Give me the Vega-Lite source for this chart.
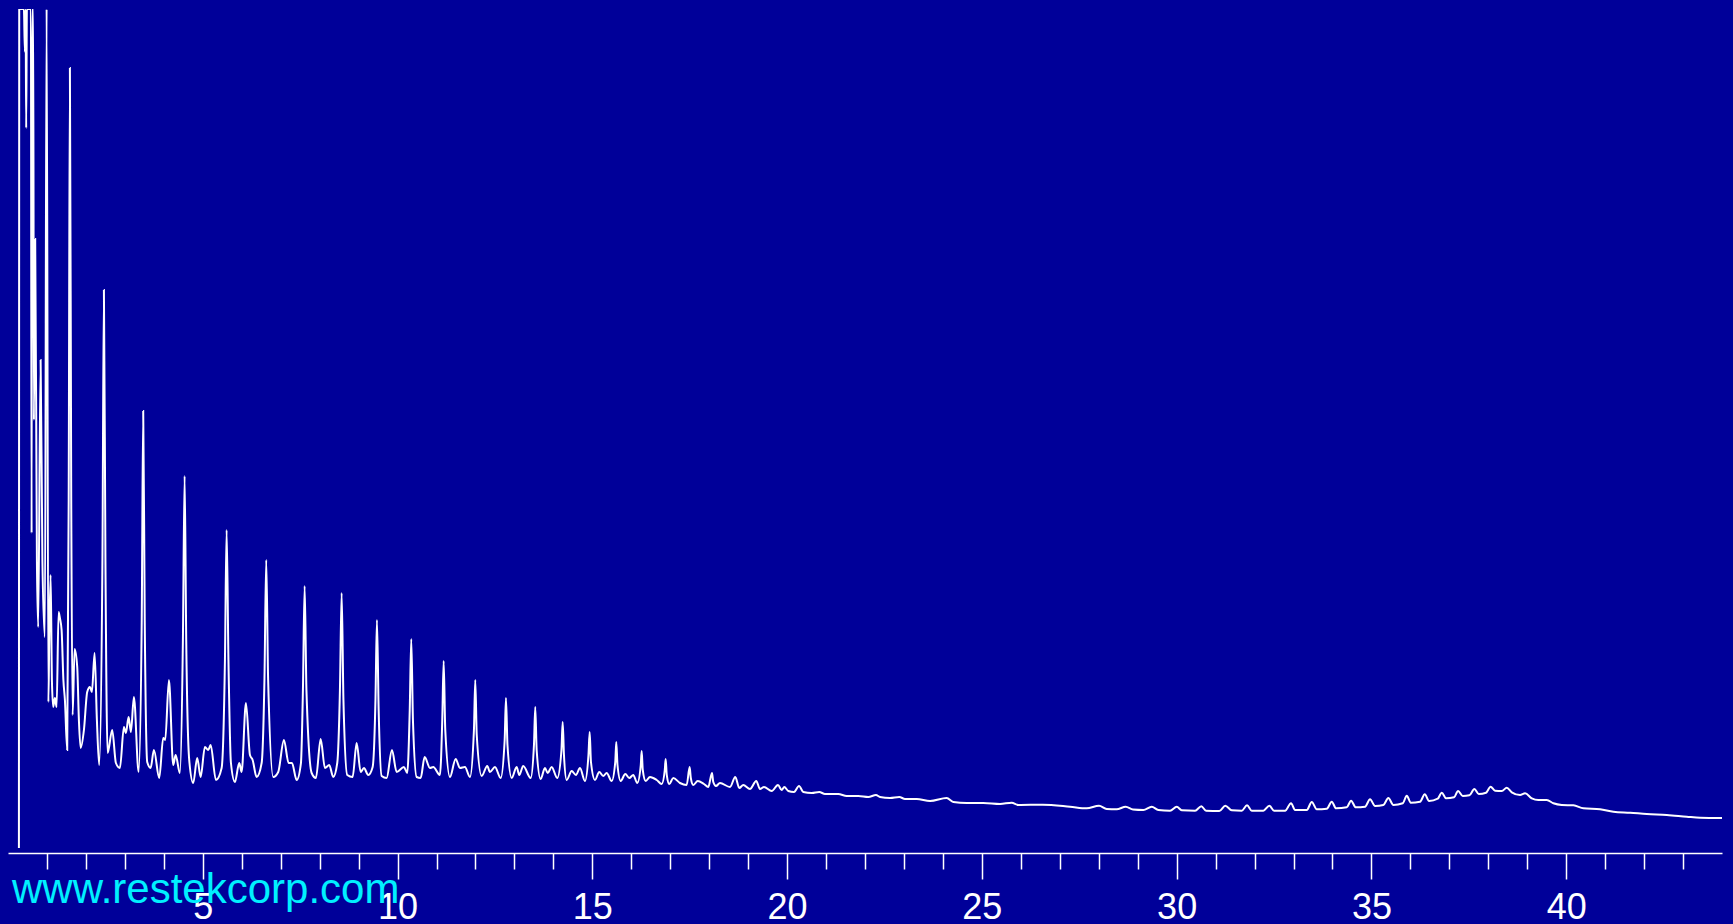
{
  "$schema": "https://vega.github.io/schema/vega-lite/v6.json",
  "autosize": {"type": "none"},
  "padding": {"left": 8, "top": 9, "right": 11, "bottom": 71},
  "width": 1714,
  "height": 844,
  "background": "#000099",
  "config": {"view": {"stroke": null}},
  "title": {"text": "www.restekcorp.com", "orient": "bottom", "anchor": "start", "frame": "group", "fontSize": 42, "font": "Liberation Sans", "fontWeight": "normal", "color": "#00F0FF", "offset": -55, "dx": 4},
  "data": {"values": [
    {"t": 0.280, "signal": 5}, {"t": 0.288, "signal": 844}, {"t": 0.408, "signal": 844}, {"t": 0.434, "signal": 801},
    {"t": 0.452, "signal": 844}, {"t": 0.467, "signal": 725}, {"t": 0.485, "signal": 844}, {"t": 0.588, "signal": 844},
    {"t": 0.606, "signal": 320}, {"t": 0.621, "signal": 844}, {"t": 0.647, "signal": 844}, {"t": 0.665, "signal": 433},
    {"t": 0.698, "signal": 614}, {"t": 0.742, "signal": 293}, {"t": 0.775, "signal": 226}, {"t": 0.837, "signal": 493},
    {"t": 0.883, "signal": 293}, {"t": 0.947, "signal": 216}, {"t": 0.991, "signal": 844}, {"t": 1.037, "signal": 151},
    {"t": 1.058, "signal": 213}, {"t": 1.094, "signal": 278}, {"t": 1.127, "signal": 173}, {"t": 1.160, "signal": 146},
    {"t": 1.204, "signal": 155}, {"t": 1.248, "signal": 146}, {"t": 1.299, "signal": 241}, {"t": 1.332, "signal": 235},
    {"t": 1.376, "signal": 223}, {"t": 1.422, "signal": 173}, {"t": 1.461, "signal": 153}, {"t": 1.520, "signal": 103},
    {"t": 1.558, "signal": 353}, {"t": 1.589, "signal": 785}, {"t": 1.623, "signal": 353}, {"t": 1.659, "signal": 138},
    {"t": 1.710, "signal": 204}, {"t": 1.777, "signal": 186}, {"t": 1.820, "signal": 133}, {"t": 1.864, "signal": 105},
    {"t": 1.949, "signal": 123}, {"t": 2.033, "signal": 161}, {"t": 2.103, "signal": 166}, {"t": 2.154, "signal": 161},
    {"t": 2.223, "signal": 200}, {"t": 2.282, "signal": 133}, {"t": 2.341, "signal": 88}, {"t": 2.424, "signal": 293},
    {"t": 2.462, "signal": 563}, {"t": 2.501, "signal": 293}, {"t": 2.557, "signal": 100}, {"t": 2.675, "signal": 123},
    {"t": 2.770, "signal": 90}, {"t": 2.873, "signal": 85}, {"t": 2.976, "signal": 126}, {"t": 3.027, "signal": 120},
    {"t": 3.096, "signal": 136}, {"t": 3.155, "signal": 121}, {"t": 3.232, "signal": 156}, {"t": 3.353, "signal": 81},
    {"t": 3.433, "signal": 233}, {"t": 3.471, "signal": 442}, {"t": 3.510, "signal": 233}, {"t": 3.574, "signal": 91},
    {"t": 3.661, "signal": 85}, {"t": 3.746, "signal": 103}, {"t": 3.882, "signal": 75}, {"t": 3.985, "signal": 115},
    {"t": 4.036, "signal": 113}, {"t": 4.131, "signal": 173}, {"t": 4.241, "signal": 88}, {"t": 4.303, "signal": 98},
    {"t": 4.413, "signal": 80}, {"t": 4.490, "signal": 213}, {"t": 4.534, "signal": 377}, {"t": 4.575, "signal": 213},
    {"t": 4.652, "signal": 93}, {"t": 4.755, "signal": 70}, {"t": 4.857, "signal": 95}, {"t": 4.945, "signal": 76},
    {"t": 5.055, "signal": 106}, {"t": 5.140, "signal": 103}, {"t": 5.202, "signal": 108}, {"t": 5.338, "signal": 73},
    {"t": 5.484, "signal": 85}, {"t": 5.569, "signal": 193}, {"t": 5.612, "signal": 323}, {"t": 5.659, "signal": 193},
    {"t": 5.723, "signal": 90}, {"t": 5.825, "signal": 71}, {"t": 5.936, "signal": 90}, {"t": 5.997, "signal": 81},
    {"t": 6.108, "signal": 150}, {"t": 6.211, "signal": 98}, {"t": 6.280, "signal": 93}, {"t": 6.382, "signal": 76},
    {"t": 6.511, "signal": 90}, {"t": 6.583, "signal": 173}, {"t": 6.629, "signal": 293}, {"t": 6.678, "signal": 173},
    {"t": 6.809, "signal": 76}, {"t": 6.937, "signal": 81}, {"t": 7.083, "signal": 113}, {"t": 7.204, "signal": 90},
    {"t": 7.289, "signal": 90}, {"t": 7.410, "signal": 73}, {"t": 7.520, "signal": 90}, {"t": 7.571, "signal": 163},
    {"t": 7.615, "signal": 267}, {"t": 7.661, "signal": 163}, {"t": 7.795, "signal": 80}, {"t": 7.905, "signal": 75},
    {"t": 8.026, "signal": 114}, {"t": 8.136, "signal": 85}, {"t": 8.247, "signal": 88}, {"t": 8.349, "signal": 76},
    {"t": 8.452, "signal": 90}, {"t": 8.521, "signal": 163}, {"t": 8.565, "signal": 260}, {"t": 8.611, "signal": 153},
    {"t": 8.709, "signal": 78}, {"t": 8.847, "signal": 76}, {"t": 8.950, "signal": 110}, {"t": 9.053, "signal": 81},
    {"t": 9.137, "signal": 85}, {"t": 9.248, "signal": 78}, {"t": 9.361, "signal": 86}, {"t": 9.433, "signal": 153},
    {"t": 9.471, "signal": 233}, {"t": 9.515, "signal": 143}, {"t": 9.592, "signal": 77}, {"t": 9.720, "signal": 75},
    {"t": 9.856, "signal": 103}, {"t": 9.977, "signal": 81}, {"t": 10.164, "signal": 86}, {"t": 10.249, "signal": 80},
    {"t": 10.313, "signal": 143}, {"t": 10.352, "signal": 214}, {"t": 10.395, "signal": 133}, {"t": 10.490, "signal": 76},
    {"t": 10.593, "signal": 75}, {"t": 10.696, "signal": 96}, {"t": 10.832, "signal": 85}, {"t": 10.917, "signal": 86},
    {"t": 11.088, "signal": 78}, {"t": 11.148, "signal": 133}, {"t": 11.184, "signal": 192}, {"t": 11.225, "signal": 123},
    {"t": 11.345, "signal": 76}, {"t": 11.492, "signal": 94}, {"t": 11.602, "signal": 85}, {"t": 11.730, "signal": 86},
    {"t": 11.859, "signal": 76}, {"t": 11.961, "signal": 123}, {"t": 11.995, "signal": 173}, {"t": 12.033, "signal": 118},
    {"t": 12.159, "signal": 77}, {"t": 12.303, "signal": 87}, {"t": 12.372, "signal": 81}, {"t": 12.501, "signal": 86},
    {"t": 12.647, "signal": 75}, {"t": 12.750, "signal": 113}, {"t": 12.783, "signal": 155}, {"t": 12.822, "signal": 108},
    {"t": 12.930, "signal": 75}, {"t": 13.058, "signal": 86}, {"t": 13.124, "signal": 78}, {"t": 13.227, "signal": 87},
    {"t": 13.417, "signal": 75}, {"t": 13.502, "signal": 108}, {"t": 13.535, "signal": 146}, {"t": 13.571, "signal": 103},
    {"t": 13.674, "signal": 74}, {"t": 13.784, "signal": 85}, {"t": 13.854, "signal": 80}, {"t": 13.956, "signal": 86},
    {"t": 14.100, "signal": 75}, {"t": 14.208, "signal": 103}, {"t": 14.239, "signal": 131}, {"t": 14.272, "signal": 98},
    {"t": 14.341, "signal": 73}, {"t": 14.470, "signal": 82}, {"t": 14.580, "signal": 78}, {"t": 14.683, "signal": 85},
    {"t": 14.811, "signal": 72}, {"t": 14.901, "signal": 98}, {"t": 14.932, "signal": 121}, {"t": 14.965, "signal": 91},
    {"t": 15.068, "signal": 73}, {"t": 15.178, "signal": 81}, {"t": 15.281, "signal": 77}, {"t": 15.368, "signal": 80},
    {"t": 15.497, "signal": 72}, {"t": 15.589, "signal": 91}, {"t": 15.615, "signal": 111}, {"t": 15.646, "signal": 88},
    {"t": 15.728, "signal": 72}, {"t": 15.846, "signal": 79}, {"t": 15.949, "signal": 75}, {"t": 16.051, "signal": 78},
    {"t": 16.154, "signal": 70}, {"t": 16.244, "signal": 88}, {"t": 16.267, "signal": 102}, {"t": 16.295, "signal": 83},
    {"t": 16.370, "signal": 72}, {"t": 16.480, "signal": 76}, {"t": 16.652, "signal": 73}, {"t": 16.781, "signal": 69},
    {"t": 16.860, "signal": 83}, {"t": 16.883, "signal": 94}, {"t": 16.911, "signal": 78}, {"t": 16.976, "signal": 69},
    {"t": 17.078, "signal": 75}, {"t": 17.250, "signal": 70}, {"t": 17.422, "signal": 68}, {"t": 17.499, "signal": 86},
    {"t": 17.528, "signal": 75}, {"t": 17.592, "signal": 68}, {"t": 17.705, "signal": 72}, {"t": 17.866, "signal": 69},
    {"t": 17.977, "signal": 66}, {"t": 18.072, "signal": 80}, {"t": 18.105, "signal": 71}, {"t": 18.175, "signal": 67},
    {"t": 18.277, "signal": 70}, {"t": 18.534, "signal": 66}, {"t": 18.670, "signal": 76}, {"t": 18.773, "signal": 65},
    {"t": 18.875, "signal": 68}, {"t": 19.047, "signal": 64}, {"t": 19.209, "signal": 72}, {"t": 19.304, "signal": 64},
    {"t": 19.407, "signal": 66}, {"t": 19.605, "signal": 62}, {"t": 19.766, "signal": 68}, {"t": 19.861, "signal": 63},
    {"t": 19.928, "signal": 66}, {"t": 20.031, "signal": 62}, {"t": 20.177, "signal": 61}, {"t": 20.306, "signal": 67},
    {"t": 20.416, "signal": 61}, {"t": 20.632, "signal": 60}, {"t": 20.827, "signal": 61}, {"t": 20.973, "signal": 59},
    {"t": 21.314, "signal": 59}, {"t": 21.530, "signal": 57}, {"t": 21.828, "signal": 57}, {"t": 22.085, "signal": 56},
    {"t": 22.282, "signal": 58}, {"t": 22.385, "signal": 56}, {"t": 22.642, "signal": 55}, {"t": 22.881, "signal": 56},
    {"t": 23.027, "signal": 54}, {"t": 23.328, "signal": 54}, {"t": 23.669, "signal": 52}, {"t": 24.097, "signal": 55},
    {"t": 24.267, "signal": 51}, {"t": 24.611, "signal": 50}, {"t": 25.037, "signal": 50}, {"t": 25.466, "signal": 49},
    {"t": 25.766, "signal": 50.3}, {"t": 25.936, "signal": 48}, {"t": 26.562, "signal": 48.3}, {"t": 27.263, "signal": 46.3},
    {"t": 27.692, "signal": 44.7}, {"t": 28.008, "signal": 47.3}, {"t": 28.205, "signal": 44}, {"t": 28.462, "signal": 43.7},
    {"t": 28.693, "signal": 46.3}, {"t": 28.880, "signal": 43.5}, {"t": 29.145, "signal": 43}, {"t": 29.361, "signal": 46.3},
    {"t": 29.530, "signal": 43}, {"t": 29.831, "signal": 42.3}, {"t": 30.003, "signal": 46.3}, {"t": 30.131, "signal": 42.7},
    {"t": 30.472, "signal": 42.3}, {"t": 30.634, "signal": 46.7}, {"t": 30.755, "signal": 42.3}, {"t": 31.096, "signal": 42},
    {"t": 31.250, "signal": 47.3}, {"t": 31.415, "signal": 42.7}, {"t": 31.671, "signal": 42.3}, {"t": 31.807, "signal": 47.7},
    {"t": 31.928, "signal": 42.3}, {"t": 32.226, "signal": 42.3}, {"t": 32.380, "signal": 47.3}, {"t": 32.501, "signal": 42.3},
    {"t": 32.783, "signal": 42.3}, {"t": 32.937, "signal": 49.7}, {"t": 33.040, "signal": 43}, {"t": 33.340, "signal": 43},
    {"t": 33.469, "signal": 51}, {"t": 33.597, "signal": 43.7}, {"t": 33.854, "signal": 44.3}, {"t": 33.982, "signal": 51.3},
    {"t": 34.092, "signal": 44.7}, {"t": 34.367, "signal": 45.7}, {"t": 34.478, "signal": 52.3}, {"t": 34.598, "signal": 45.7},
    {"t": 34.837, "signal": 46.3}, {"t": 34.965, "signal": 53.7}, {"t": 35.094, "signal": 47}, {"t": 35.307, "signal": 48},
    {"t": 35.435, "signal": 55}, {"t": 35.564, "signal": 48}, {"t": 35.805, "signal": 49.7}, {"t": 35.908, "signal": 57.3},
    {"t": 36.010, "signal": 50.3}, {"t": 36.249, "signal": 51.3}, {"t": 36.370, "signal": 58.7}, {"t": 36.480, "signal": 52},
    {"t": 36.703, "signal": 54.3}, {"t": 36.806, "signal": 60.3}, {"t": 36.917, "signal": 54.7}, {"t": 37.122, "signal": 55.7},
    {"t": 37.225, "signal": 62}, {"t": 37.345, "signal": 57}, {"t": 37.515, "signal": 57.7}, {"t": 37.643, "signal": 64},
    {"t": 37.756, "signal": 59}, {"t": 37.943, "signal": 60.3}, {"t": 38.059, "signal": 66.3}, {"t": 38.175, "signal": 62.3},
    {"t": 38.347, "signal": 62}, {"t": 38.475, "signal": 65.3}, {"t": 38.603, "signal": 60.7}, {"t": 38.816, "signal": 58},
    {"t": 38.945, "signal": 59.7}, {"t": 39.117, "signal": 54.7}, {"t": 39.286, "signal": 53}, {"t": 39.502, "signal": 53},
    {"t": 39.671, "signal": 49.7}, {"t": 39.887, "signal": 48}, {"t": 40.185, "signal": 47.7}, {"t": 40.441, "signal": 44.7},
    {"t": 40.870, "signal": 43.7}, {"t": 41.212, "signal": 41.3}, {"t": 41.641, "signal": 40.3}, {"t": 42.069, "signal": 39},
    {"t": 42.583, "signal": 38}, {"t": 43.096, "signal": 36.3}, {"t": 43.438, "signal": 35.3}, {"t": 44.0, "signal": 35}
  ]},
  "mark": {"type": "line", "color": "white", "strokeWidth": 2, "clip": true, "interpolate": "monotone"},
  "encoding": {
    "x": {
      "field": "t", "type": "quantitative",
      "scale": {"domain": [0, 44], "nice": false, "zero": false},
      "axis": {
        "title": null,
        "values": [1,2,3,4,5,6,7,8,9,10,11,12,13,14,15,16,17,18,19,20,21,22,23,24,25,26,27,28,29,30,31,32,33,34,35,36,37,38,39,40,41,42,43],
        "grid": false,
        "domainColor": "white", "domainWidth": 1.5,
        "tickColor": "white", "tickWidth": 1.5,
        "tickSize": {"condition": {"test": "datum.value % 5 === 0", "value": 26}, "value": 16},
        "labelExpr": "datum.value % 5 === 0 ? datum.label : ''",
        "labelFont": "Liberation Sans", "labelFontSize": 36, "labelColor": "white",
        "labelPadding": 11, "labelOverlap": false, "labelFlush": false, "labelBound": false
      }
    },
    "y": {
      "field": "signal", "type": "quantitative",
      "scale": {"domain": [0, 844], "nice": false, "zero": false},
      "axis": null
    }
  }
}
